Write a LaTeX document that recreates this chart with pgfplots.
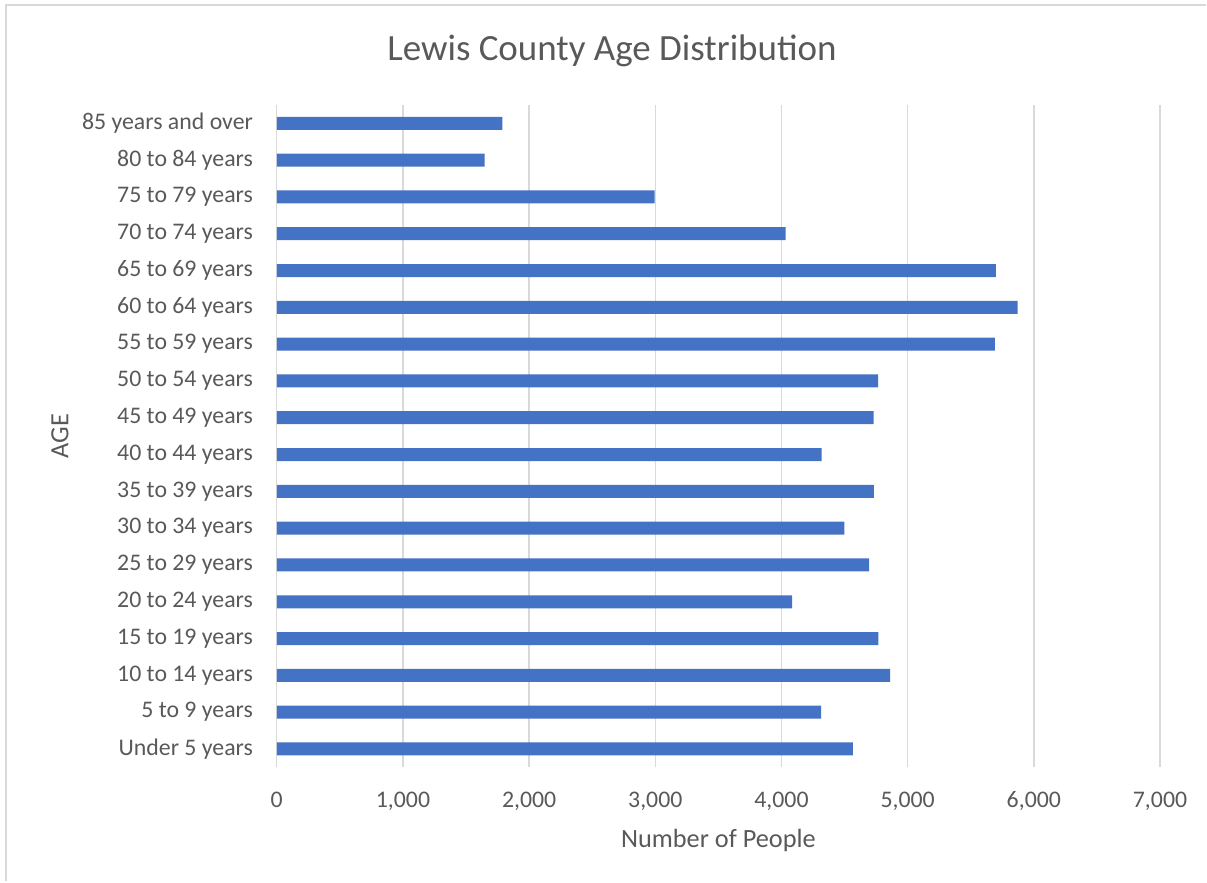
\documentclass[border=0pt]{standalone}
\usepackage{pgfplots}
\pgfplotsset{compat=1.18}
\usepackage{fontspec}
\setmainfont{Carlito}
\definecolor{barblue}{HTML}{4472C4}
\definecolor{txtgray}{HTML}{595959}
\definecolor{gridgray}{HTML}{D9D9D9}
\begin{document}
\begin{tikzpicture}[x=0.6pt,y=0.6pt]
  % page frame (1207 x 882 px), only top and left edges are visible
  \path (0,0) rectangle (1207,882);
  \draw[gridgray,line width=1.2pt] (6.5,0) -- (6.5,876.5) -- (1207,876.5);
  \begin{axis}[
    at={(166.2pt,68.4pt)}, anchor=south west,
    scale only axis,
    width=530.4pt, height=397.8pt,
    xbar, bar width=7.8pt,
    xmin=0, xmax=7000,
    ymin=-0.5, ymax=17.5,
    xtick={0,1000,...,7000},
    ytick={0,...,17},
    yticklabels={Under 5 years,5 to 9 years,10 to 14 years,15 to 19 years,
      20 to 24 years,25 to 29 years,30 to 34 years,35 to 39 years,
      40 to 44 years,45 to 49 years,50 to 54 years,55 to 59 years,
      60 to 64 years,65 to 69 years,70 to 74 years,75 to 79 years,
      80 to 84 years,85 years and over},
    major tick length=0pt,
    axis line style={draw=none},
    xmajorgrids,
    grid style={gridgray,line width=0.8pt},
    /pgf/number format/assume math mode=true,
    /pgf/number format/1000 sep={,},
    scaled x ticks=false,
    tick label style={font=\fontsize{14.3}{16}\selectfont,text=txtgray},
    xticklabel style={yshift=-11pt},
    yticklabel style={xshift=-10.8pt},
    title={Lewis County Age Distribution},
    title style={font=\fontsize{22.2}{26}\selectfont,text=txtgray,
      at={(axis description cs:0.3795,1.066)},anchor=center},
    xlabel={Number of People},
    xlabel style={font=\fontsize{15.8}{18}\selectfont,text=txtgray,
      at={(axis description cs:0.5,-0.11)},anchor=center},
    ylabel={AGE},
    ylabel style={font=\fontsize{15.8}{18}\selectfont,text=txtgray,
      at={(axis description cs:-0.2455,0.5)},anchor=center,rotate=0},
  ]
    \addplot[fill=barblue,draw=none] coordinates {
      (4565,0)
      (4314,1)
      (4860,2)
      (4768,3)
      (4084,4)
      (4694,5)
      (4499,6)
      (4733,7)
      (4319,8)
      (4731,9)
      (4765,10)
      (5691,11)
      (5871,12)
      (5699,13)
      (4032,14)
      (2994,15)
      (1648,16)
      (1788,17)
    };
  \end{axis}
\end{tikzpicture}
\end{document}
